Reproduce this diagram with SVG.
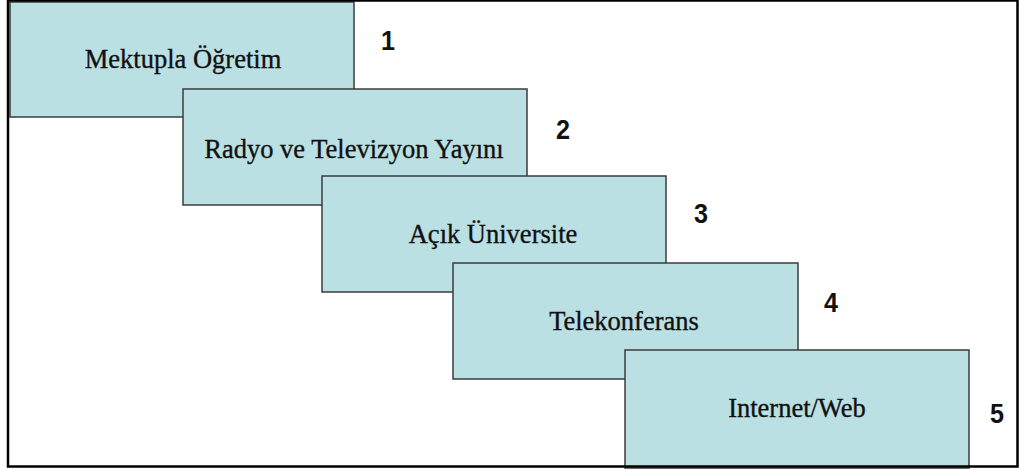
<svg xmlns="http://www.w3.org/2000/svg" width="1019" height="470" viewBox="0 0 1019 470">
  <style>
    .box { fill: #BAE0E4; stroke: #3c3c3c; stroke-width: 1.5; }
    .label { font-family: "Liberation Serif", "DejaVu Serif", serif; font-size: 26.5px; fill: #111; stroke: #111; stroke-width: 0.35; text-anchor: middle; }
    .num { font-family: "Liberation Sans", Arial, sans-serif; font-size: 28px; font-weight: bold; fill: #111; text-anchor: middle; }
  </style>
  <rect x="0" y="0" width="1019" height="470" fill="#ffffff"/>

  <g id="step1">
    <rect class="box" x="10" y="2" width="344" height="115"/>
    <text class="label" x="183" y="68">Mektupla Öğretim</text>
    <text class="num" x="388" y="50" transform="translate(388 50) scale(0.9 1) translate(-388 -50)">1</text>
  </g>
  <g id="step2">
    <rect class="box" x="183" y="89" width="344" height="116"/>
    <text class="label" x="354" y="158">Radyo ve Televizyon Yayını</text>
    <text class="num" x="563" y="139" transform="translate(563 139) scale(0.9 1) translate(-563 -139)">2</text>
  </g>
  <g id="step3">
    <rect class="box" x="322" y="176" width="344" height="116"/>
    <text class="label" x="493" y="243">Açık Üniversite</text>
    <text class="num" x="701" y="223" transform="translate(701 223) scale(0.9 1) translate(-701 -223)">3</text>
  </g>
  <g id="step4">
    <rect class="box" x="453" y="263" width="345" height="116"/>
    <text class="label" x="624" y="330">Telekonferans</text>
    <text class="num" x="831" y="312" transform="translate(831 312) scale(0.9 1) translate(-831 -312)">4</text>
  </g>
  <g id="step5">
    <rect class="box" x="625" y="350" width="344" height="118"/>
    <text class="label" x="797" y="417">Internet/Web</text>
    <text class="num" x="997" y="423" transform="translate(997 423) scale(0.9 1) translate(-997 -423)">5</text>
  </g>

  <g id="connectors"></g>

  <!-- outer frame -->
  <rect x="8" y="0.5" width="1009.5" height="466" fill="none" stroke="#000" stroke-width="2.5"/>
</svg>
